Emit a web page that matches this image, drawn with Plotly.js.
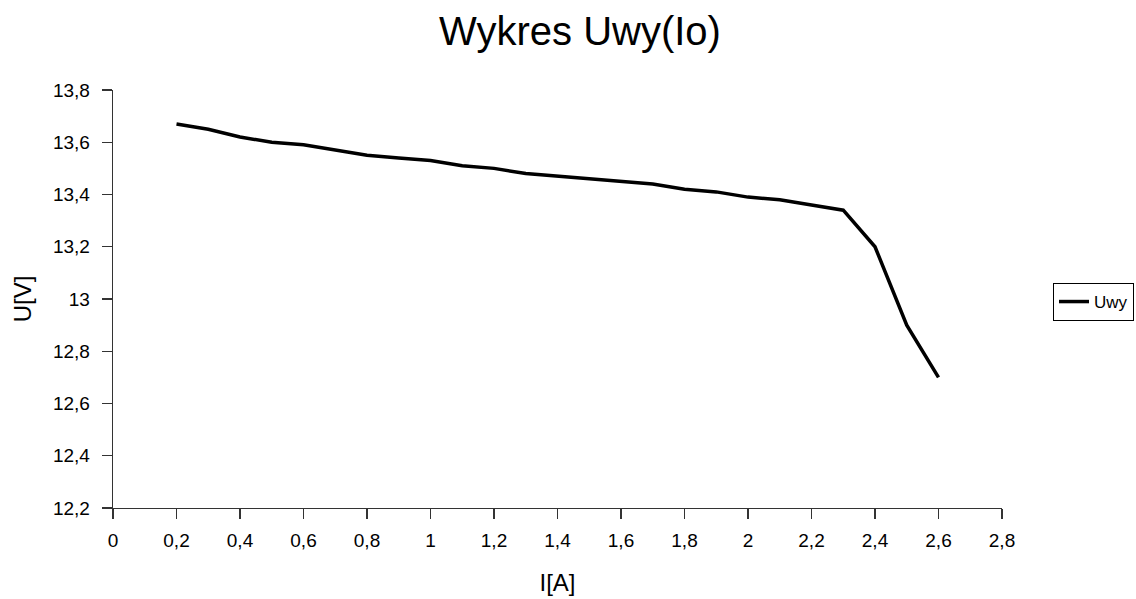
<!DOCTYPE html>
<html>
<head>
<meta charset="utf-8">
<script src="https://cdn.plot.ly/plotly-3.0.1.min.js"></script>
<style>html,body{margin:0;padding:0;background:#fff;}#chart{width:1136px;height:599px;}</style>
</head>
<body>
<div id="chart"></div>
<script>
const currentA = [0.2,0.3,0.4,0.5,0.6,0.7,0.8,0.9,1.0,1.1,1.2,1.3,1.4,1.5,1.6,1.7,1.8,1.9,2.0,2.1,2.2,2.3,2.4,2.5,2.6];
const voltageUwy = [13.67,13.65,13.62,13.60,13.59,13.57,13.55,13.54,13.53,13.51,13.50,13.48,13.47,13.46,13.45,13.44,13.42,13.41,13.39,13.38,13.36,13.34,13.20,12.90,12.70];
const seriesName = 'Uwy';
const xTicks = [0,0.2,0.4,0.6,0.8,1.0,1.2,1.4,1.6,1.8,2.0,2.2,2.4,2.6,2.8];
const yTicks = [12.2,12.4,12.6,12.8,13.0,13.2,13.4,13.6,13.8];

const font = 'Arial, "Liberation Sans", sans-serif';
const trace = {
  x: currentA, y: voltageUwy, name: seriesName, type: 'scatter', mode: 'lines',
  line: {color: '#000000', width: 3.5}
};
const layout = {
  width: 1136, height: 599,
  margin: {l: 113, r: 134, t: 90, b: 91},
  paper_bgcolor: '#ffffff', plot_bgcolor: '#ffffff',
  separators: ', ',
  font: {family: font, color: '#000000', size: 19},
  title: {text: 'Wykres Uwy(Io)', font: {family: font, size: 40, color: '#000'},
          x: 580/1136, xref: 'container', xanchor: 'center',
          y: 1 - 31/599, yref: 'container', yanchor: 'middle'},
  showlegend: true,
  legend: {x: 1053/1136, xref: 'container', xanchor: 'left',
           y: 1 - 302/599, yref: 'container', yanchor: 'middle',
           bordercolor: '#000', borderwidth: 1, bgcolor: '#fff',
           font: {family: font, size: 17, color: '#000'}, itemwidth: 30},
  xaxis: {
    range: [0, 2.8], tickvals: xTicks, tickformat: '.1~f', automargin: false,
    showgrid: false, zeroline: false, showline: true, linecolor: '#333', linewidth: 1.3,
    ticks: 'outside', ticklen: 10, tickcolor: '#333', tickwidth: 1.3, ticklabelstandoff: 5,
    tickfont: {family: font, size: 19, color: '#000'},
    title: {text: 'I[A]', font: {family: font, size: 24, color: '#000'}, standoff: 24}
  },
  yaxis: {
    range: [12.2, 13.8], tickvals: yTicks, tickformat: '.1~f', automargin: false,
    showgrid: false, zeroline: false, showline: true, linecolor: '#333', linewidth: 1.3,
    ticks: 'outside', ticklen: 10, tickcolor: '#333', tickwidth: 1.3, ticklabelstandoff: 8,
    tickfont: {family: font, size: 19, color: '#000'},
    title: {text: 'U[V]', font: {family: font, size: 24, color: '#000'}, standoff: 14}
  }
};
Plotly.newPlot('chart', [trace], layout, {displayModeBar: false, staticPlot: true});
</script>
</body>
</html>
